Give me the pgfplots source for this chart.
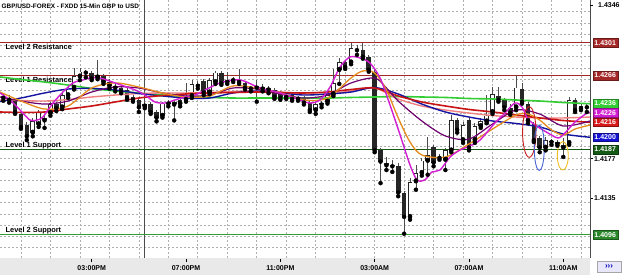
\documentclass[border=0pt]{standalone}
\usepackage{pgfplots}
\usepackage{pgfplotstable}
\pgfplotsset{compat=1.18}
\usepackage{fontspec}
\setmainfont{Liberation Sans}
\definecolor{cGreen}{RGB}{50,205,50}
\definecolor{cDRed}{RGB}{200,20,20}
\definecolor{cSalmon}{RGB}{240,128,128}
\definecolor{cNavy}{RGB}{20,20,160}
\definecolor{cPurple}{RGB}{110,0,110}
\definecolor{cOrange}{RGB}{230,140,30}
\definecolor{cMag}{RGB}{210,30,210}
\definecolor{cRes}{RGB}{165,40,40}
\definecolor{cSup1}{RGB}{20,90,20}
\definecolor{cSup2}{RGB}{50,160,50}
\definecolor{cBoxRed}{RGB}{215,25,25}
\definecolor{cBoxBlue}{RGB}{20,20,210}
\definecolor{cEllR}{RGB}{200,30,30}
\definecolor{cEllB}{RGB}{70,100,210}
\definecolor{cEllY}{RGB}{240,190,30}
\definecolor{cGrid}{RGB}{175,175,175}
\newcommand\ttl{\fontsize{6.4}{7}\selectfont\bfseries}
\newcommand\lvl{\fontsize{7.4}{8}\selectfont\bfseries}
\newcommand\tkf{\fontsize{7}{8}\selectfont\bfseries}

\pgfplotstableread{
t o h l c
11.25 1.4244 1.4247 1.4239 1.4242
11.50 1.4242 1.4245 1.4237 1.4240
11.75 1.4240 1.4242 1.4225 1.4227
12.00 1.4225 1.4227 1.4209 1.4211
12.25 1.4213 1.4216 1.4197 1.4201
12.50 1.4205 1.4221 1.4201 1.4217
12.75 1.4214 1.4229 1.4211 1.4227
13.00 1.4221 1.4225 1.4210 1.4218
13.25 1.4226 1.4238 1.4223 1.4235
13.50 1.4236 1.4238 1.4228 1.4231
13.75 1.4232 1.4247 1.4230 1.4245
14.00 1.4245 1.4256 1.4242 1.4253
14.25 1.4253 1.4274 1.4251 1.4265
14.50 1.4265 1.4274 1.4261 1.4270
14.75 1.4269 1.4272 1.4264 1.4269
15.00 1.4269 1.4271 1.4261 1.4263
15.25 1.4264 1.4283 1.4262 1.4267
15.50 1.4265 1.4268 1.4257 1.4259
15.75 1.4259 1.4262 1.4252 1.4255
16.00 1.4255 1.4257 1.4249 1.4253
16.25 1.4253 1.4255 1.4247 1.4249
16.50 1.4251 1.4253 1.4240 1.4242
16.75 1.4243 1.4245 1.4238 1.4240
17.00 1.4240 1.4242 1.4227 1.4232
17.25 1.4233 1.4238 1.4231 1.4236
17.50 1.4236 1.4238 1.4225 1.4227
17.75 1.4227 1.4229 1.4217 1.4221
18.00 1.4223 1.4238 1.4221 1.4236
18.25 1.4236 1.4240 1.4233 1.4238
18.50 1.4238 1.4240 1.4218 1.4235
18.75 1.4236 1.4242 1.4233 1.4240
19.00 1.4240 1.4258 1.4238 1.4244
19.25 1.4244 1.4261 1.4242 1.4257
19.50 1.4257 1.4260 1.4252 1.4255
19.75 1.4260 1.4262 1.4245 1.4248
20.00 1.4248 1.4263 1.4246 1.4261
20.25 1.4259 1.4271 1.4257 1.4269
20.50 1.4269 1.4271 1.4256 1.4258
20.75 1.4259 1.4270 1.4257 1.4261
21.00 1.4261 1.4264 1.4259 1.4262
21.25 1.4261 1.4273 1.4257 1.4259
21.50 1.4258 1.4260 1.4251 1.4253
21.75 1.4253 1.4255 1.4249 1.4252
22.00 1.4253 1.4261 1.4238 1.4255
22.25 1.4254 1.4257 1.4249 1.4252
22.50 1.4253 1.4255 1.4247 1.4251
22.75 1.4251 1.4253 1.4241 1.4243
23.00 1.4247 1.4249 1.4240 1.4242
23.25 1.4243 1.4247 1.4241 1.4245
23.50 1.4245 1.4247 1.4239 1.4241
23.75 1.4241 1.4244 1.4239 1.4242
24.00 1.4242 1.4244 1.4235 1.4237
24.25 1.4237 1.4239 1.4227 1.4229
24.50 1.4229 1.4237 1.4225 1.4235
24.75 1.4235 1.4239 1.4232 1.4237
25.00 1.4238 1.4247 1.4236 1.4245
25.25 1.4246 1.4273 1.4244 1.4258
25.50 1.4272 1.4285 1.4257 1.4280
25.75 1.4280 1.4283 1.4273 1.4275
26.00 1.4280 1.4301 1.4278 1.4295
26.25 1.4293 1.4299 1.4288 1.4293
26.50 1.4293 1.4301 1.4284 1.4286
26.75 1.4286 1.4288 1.4270 1.4272
27.00 1.4270 1.4272 1.4184 1.4186
27.25 1.4186 1.4189 1.4151 1.4174
27.50 1.4172 1.4179 1.4165 1.4170
27.75 1.4170 1.4176 1.4163 1.4169
28.00 1.4169 1.4172 1.4137 1.4141
28.25 1.4141 1.4143 1.4097 1.4115
28.50 1.4115 1.4157 1.4112 1.4152
28.75 1.4153 1.4170 1.4144 1.4162
29.00 1.4162 1.4178 1.4159 1.4175
29.25 1.4175 1.4200 1.4160 1.4181
29.50 1.4190 1.4192 1.4169 1.4173
29.75 1.4178 1.4182 1.4176 1.4179
30.00 1.4176 1.4189 1.4165 1.4186
30.25 1.4186 1.4224 1.4184 1.4218
30.50 1.4218 1.4221 1.4205 1.4208
30.75 1.4197 1.4216 1.4194 1.4213
31.00 1.4218 1.4221 1.4186 1.4189
31.25 1.4197 1.4215 1.4194 1.4212
31.50 1.4212 1.4221 1.4210 1.4217
31.75 1.4217 1.4245 1.4215 1.4223
32.00 1.4227 1.4254 1.4225 1.4246
32.25 1.4244 1.4254 1.4238 1.4240
32.50 1.4240 1.4242 1.4229 1.4232
32.75 1.4231 1.4235 1.4224 1.4226
33.00 1.4232 1.4267 1.4229 1.4253
33.25 1.4252 1.4258 1.4236 1.4238
33.50 1.4236 1.4238 1.4215 1.4218
33.75 1.4214 1.4216 1.4195 1.4197
34.00 1.4199 1.4201 1.4184 1.4189
34.25 1.4189 1.4200 1.4186 1.4197
34.50 1.4195 1.4198 1.4192 1.4195
34.75 1.4195 1.4197 1.4191 1.4193
35.00 1.4192 1.4199 1.4179 1.4189
35.25 1.4194 1.4243 1.4192 1.4240
35.50 1.4240 1.4242 1.4227 1.4229
35.75 1.4233 1.4236 1.4229 1.4231
36.00 1.4233 1.4236 1.4227 1.4232
}\candles

\tikzset{
  pbox/.style={anchor=west, fill=#1, draw=#1!65!black, text=white, font=\tkf,
    inner sep=0pt, minimum width=25pt, minimum height=8.6pt, xshift=2.5pt},
  plab/.style={anchor=west, font=\tkf, inner sep=0pt, xshift=4pt}
}

\begin{document}
\begin{tikzpicture}[x=1pt,y=1pt]
\useasboundingbox (0,-17) rectangle (625,258);
\fill[white] (0,-17) rectangle (625,258);
\fill[gray!17] (0,-17) rectangle (590,0);
\begin{axis}[
  at={(0pt,0pt)}, anchor=south west, scale only axis,
  width=590pt, height=258pt,
  xmin=11.111, xmax=36.133, ymin=1.407106, ymax=1.43466,
  clip=false,
  axis line style={draw=none},
  xtick={12,13.25,14.5,15.75,17,18.25,19.5,20.75,22,23.25,24.5,25.75,27,28.25,29.5,30.75,32,33.25,34.5,35.75},
  ytick={1.4082,1.4094,1.4106,1.4118,1.4130,1.4142,1.4154,1.4166,1.4178,1.4190,1.4202,1.4214,1.4226,1.4238,1.4250,1.4262,1.4274,1.4286,1.4298,1.4310,1.4322,1.4334},
  xticklabels={}, yticklabels={},
  tick style={draw=none},
  xmajorgrids=true, ymajorgrids=true,
  major grid style={draw=cGrid, line width=0.7pt, dash pattern=on 2pt off 2pt},
]
% separator
\addplot[gray!60!black, line width=0.6pt] coordinates {(17.22,1.407106) (17.22,1.43466)};
% level lines
\addplot[cRes, line width=1.3pt] coordinates {(11.111,1.4301) (36.133,1.4301)};
\addplot[cRes, line width=1.3pt] coordinates {(11.111,1.4266) (36.133,1.4266)};
\addplot[cSup1, line width=1.3pt] coordinates {(11.111,1.4187) (36.133,1.4187)};
\addplot[cSup2, line width=1.3pt] coordinates {(11.111,1.4096) (36.133,1.4096)};
\node[anchor=west, font=\lvl, inner sep=0pt] at (axis cs:11.344,1.42967) {Level 2 Resistance};
\node[anchor=west, font=\lvl, inner sep=0pt] at (axis cs:11.344,1.42612) {Level 1 Resistance};
\node[anchor=west, font=\lvl, inner sep=0pt] at (axis cs:11.344,1.41910) {Level 1 Support};
\node[anchor=west, font=\lvl, inner sep=0pt] at (axis cs:11.344,1.40999) {Level 2 Support};
% candles: wicks
\addplot[only marks, mark=none, error bars/.cd, y dir=plus, y explicit, error mark=none,
  error bar style={draw=black!70, line width=0.8pt}]
  table[x=t, y=l, y error plus expr=\thisrow{h}-\thisrow{l}] \candles;
% bodies
\addplot[only marks, mark=none, error bars/.cd, y dir=plus, y explicit, error mark=none,
  error bar style={draw=black!85, line width=4.6pt}]
  table[x=t, y expr={min(\thisrow{o},\thisrow{c})}, y error plus expr={max(abs(\thisrow{c}-\thisrow{o}),0.0001)}] \candles;
\addplot[only marks, mark=none, restrict expr to domain={\thisrow{c}-\thisrow{o}}{0.00022:1},
  error bars/.cd, y dir=plus, y explicit, error mark=none,
  error bar style={draw=white, line width=3.0pt}]
  table[x=t, y expr=\thisrow{o}+0.00008, y error plus expr=\thisrow{c}-\thisrow{o}-0.00016] \candles;
% moving averages
\addplot[cGreen, line width=1.6pt, smooth, tension=0.5] coordinates {(11.11,1.42644) (12,1.42617) (13,1.42590) (14,1.42558) (15,1.42521) (16,1.42494) (17,1.42473) (18,1.42451) (19,1.42435) (20,1.42425) (21,1.42419) (22,1.42419) (23,1.42419) (24,1.42419) (25,1.42419) (26,1.42425) (27,1.42430) (28,1.42435) (29,1.42430) (30,1.42425) (31,1.42414) (32,1.42409) (33,1.42398) (34,1.42387) (35,1.42371) (36.13,1.42358)};
\addplot[cSalmon, line width=1.4pt, smooth, tension=0.5] coordinates {(11.11,1.42398) (12,1.42393) (13,1.42387) (14,1.42403) (15,1.42430) (16,1.42451) (17,1.42467) (18,1.42473) (19,1.42473) (20,1.42478) (21,1.42489) (22,1.42494) (23,1.42483) (24,1.42462) (25,1.42462) (26,1.42494) (27,1.42526) (28,1.42409) (29,1.42334) (30,1.42291) (31,1.42259) (32,1.42232) (33,1.42216) (34,1.42206) (35,1.42206) (36.13,1.42216)};
\addplot[cNavy, line width=1.4pt, smooth, tension=0.5] coordinates {(11.11,1.42382) (12,1.42419) (13,1.42473) (14,1.42515) (15,1.42521) (16,1.42505) (17,1.42467) (18,1.42441) (19,1.42419) (20,1.42419) (21,1.42473) (22,1.42494) (23,1.42473) (24,1.42451) (25,1.42462) (26,1.42483) (27,1.42531) (28,1.42462) (29,1.42355) (30,1.42270) (31,1.42216) (32,1.42174) (33,1.42147) (34,1.42110) (35,1.42035) (36.13,1.42000)};
\addplot[cDRed, line width=1.6pt, smooth, tension=0.5] coordinates {(11.11,1.42270) (12,1.42265) (13,1.42270) (14,1.42302) (15,1.42334) (16,1.42377) (17,1.42419) (18,1.42446) (19,1.42462) (20,1.42473) (21,1.42478) (22,1.42483) (23,1.42478) (24,1.42473) (25,1.42483) (26,1.42510) (27,1.42526) (28,1.42441) (29,1.42377) (30,1.42334) (31,1.42297) (32,1.42270) (33,1.42238) (34,1.42206) (35,1.42179) (36.13,1.42160)};
\addplot[cPurple, line width=1.2pt, smooth, tension=0.5] coordinates {(11.11,1.42430) (12,1.42387) (13,1.42355) (14,1.42387) (15,1.42483) (16,1.42537) (17,1.42526) (18,1.42473) (19,1.42441) (20,1.42451) (21,1.42526) (22,1.42515) (23,1.42462) (24,1.42419) (25,1.42451) (26,1.42580) (27,1.42633) (27.5,1.42526) (28,1.42387) (29,1.42174) (30,1.42014) (31,1.41981) (32,1.42142) (33,1.42291) (34,1.42248) (35,1.42120) (36.13,1.42174)};
\addplot[cOrange, line width=1.3pt, smooth, tension=0.5] coordinates {(11.11,1.42483) (12,1.42387) (13,1.42302) (14,1.42334) (15,1.42526) (16,1.42580) (17,1.42537) (18,1.42473) (19,1.42430) (20,1.42441) (21,1.42548) (22,1.42526) (23,1.42473) (24,1.42398) (25,1.42419) (26,1.42633) (26.5,1.42708) (27,1.42686) (27.5,1.42505) (28,1.42206) (28.5,1.41949) (29,1.41811) (30,1.41789) (31,1.41928) (32,1.42088) (33,1.42238) (33.5,1.42248) (34,1.42184) (34.5,1.42078) (35,1.42024) (35.5,1.42088) (36.13,1.42130)};
\addplot[cMag, line width=1.4pt, smooth, tension=0.5] coordinates {(11.11,1.42473) (11.53,1.42398) (11.96,1.42291) (12.38,1.42184) (12.68,1.42184) (12.93,1.42216) (13.36,1.42366) (13.78,1.42483) (14.21,1.42580) (14.63,1.42612) (14.93,1.42633) (15.35,1.42633) (15.99,1.42580) (16.84,1.42505) (17.26,1.42451) (17.68,1.42377) (18.11,1.42366) (18.53,1.42398) (18.96,1.42430) (19.38,1.42451) (20.44,1.42580) (21.29,1.42612) (22.14,1.42526) (22.99,1.42473) (23.83,1.42398) (24.26,1.42366) (24.68,1.42398) (25.11,1.42537) (25.53,1.42750) (25.95,1.42857) (26.38,1.42847) (26.80,1.42793) (27.23,1.42633) (27.65,1.42345) (28.08,1.42024) (28.50,1.41704) (28.80,1.41544) (29.13,1.41544) (29.43,1.41629) (29.77,1.41650) (30.20,1.41789) (30.62,1.41864) (31.04,1.41907) (31.47,1.41971) (32.10,1.42152) (32.53,1.42259) (32.95,1.42366) (33.25,1.42323) (33.50,1.42195) (33.93,1.42110) (34.35,1.42046) (34.78,1.41992) (35.07,1.42046) (35.50,1.42163) (36.01,1.42259) (36.13,1.42262)};
% hand-drawn ellipses
\draw[cEllR, line width=0.9pt] (axis cs:33.558,1.42056) ellipse [x radius=6.7pt, y radius=25.3pt];
\draw[cEllB, line width=0.9pt] (axis cs:33.982,1.41888) ellipse [x radius=5pt, y radius=22.8pt];
\draw[cEllY, line width=0.9pt] (axis cs:34.979,1.41802) ellipse [x radius=5.5pt, y radius=14.2pt];
% x tick labels
\draw[black, line width=0.6pt] (axis cs:15,1.407106) ++(0pt,-1pt) -- ++(0pt,-2.8pt);
\draw[black, line width=0.6pt] (axis cs:19,1.407106) ++(0pt,-1pt) -- ++(0pt,-2.8pt);
\draw[black, line width=0.6pt] (axis cs:23,1.407106) ++(0pt,-1pt) -- ++(0pt,-2.8pt);
\draw[black, line width=0.6pt] (axis cs:27,1.407106) ++(0pt,-1pt) -- ++(0pt,-2.8pt);
\draw[black, line width=0.6pt] (axis cs:31,1.407106) ++(0pt,-1pt) -- ++(0pt,-2.8pt);
\draw[black, line width=0.6pt] (axis cs:35,1.407106) ++(0pt,-1pt) -- ++(0pt,-2.8pt);
\node[font=\tkf, inner sep=0pt] at (axis cs:15,1.407106) [yshift=-9.8pt] {03:00PM};
\node[font=\tkf, inner sep=0pt] at (axis cs:19,1.407106) [yshift=-9.8pt] {07:00PM};
\node[font=\tkf, inner sep=0pt] at (axis cs:23,1.407106) [yshift=-9.8pt] {11:00PM};
\node[font=\tkf, inner sep=0pt] at (axis cs:27,1.407106) [yshift=-9.8pt] {03:00AM};
\node[font=\tkf, inner sep=0pt] at (axis cs:31,1.407106) [yshift=-9.8pt] {07:00AM};
\node[font=\tkf, inner sep=0pt] at (axis cs:35,1.407106) [yshift=-9.8pt] {11:00AM};
% right axis labels
\node[plab] at (axis cs:36.133,1.4177) {1.4177};
\node[plab] at (axis cs:36.133,1.4135) {1.4135};
\draw[black, line width=0.6pt] (axis cs:36.133,1.4177) -- ++(3pt,0pt);
\draw[black, line width=0.6pt] (axis cs:36.133,1.4135) -- ++(3pt,0pt);
\node[pbox=cRes] at (axis cs:36.133,1.4301) {1.4301};
\node[pbox=cRes] at (axis cs:36.133,1.4266) {1.4266};
\node[pbox=cGreen] at (axis cs:36.133,1.4236) {1.4236};
\node[pbox=cMag] at (axis cs:36.133,1.4226) {1.4226};
\node[pbox=cBoxRed] at (axis cs:36.133,1.4216) {1.4216};
\node[pbox=cBoxBlue] at (axis cs:36.133,1.4200) {1.4200};
\node[pbox=cSup1] at (axis cs:36.133,1.4187) {1.4187};
\node[pbox=cSup2!85!black] at (axis cs:36.133,1.4096) {1.4096};
\end{axis}
% title
\node[anchor=west, font=\ttl, inner sep=0pt] at (1.5,252) {GBP/USD-FOREX - FXDD 15-Min GBP to USD};
% right panel
\draw[gray!60!black, line width=0.6pt] (590,0) -- (590,258);
\draw[black, line width=0.6pt] (590,253) -- (593,253);
\node[plab, xshift=0pt] at (594,253) {1.4346};
\node[draw=gray!70, fill={rgb,255:red,232;green,232;blue,250}, minimum width=24pt, minimum height=10.5pt,
  inner sep=0pt, text=blue!70!black, font=\fontsize{8}{8}\selectfont\bfseries] at (609,-8.5) {›››};
\end{tikzpicture}
\end{document}
